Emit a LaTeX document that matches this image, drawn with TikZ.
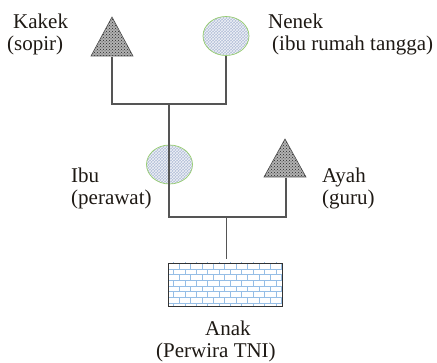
\documentclass[tikz,border=0pt]{standalone}
\usepackage{fontspec}
\setmainfont{Liberation Serif}
\usetikzlibrary{patterns,shapes.geometric}
\definecolor{femfill}{RGB}{178,190,216}
\definecolor{femedge}{RGB}{150,205,110}
\definecolor{linecol}{RGB}{85,85,85}
\definecolor{txtcol}{RGB}{30,25,20}
\definecolor{brickcol}{RGB}{150,190,230}
\begin{document}
\begin{tikzpicture}[x=1pt,y=-1pt,
  lbl/.style={font=\fontsize{21}{22}\selectfont, text=txtcol, inner sep=0pt, anchor=base west},
  tri/.style={draw=black!70, line width=0.6pt, preaction={fill=gray!60}, pattern=crosshatch dots, pattern color=black!85},
  fem/.style={ellipse, minimum width=46pt, minimum height=39pt, inner sep=0pt, draw=femedge, line width=0.7pt,
    preaction={fill=femfill}, pattern=crosshatch, pattern color=white!80!femfill},
  kid/.style={rectangle, minimum width=114pt, minimum height=43pt, inner sep=0pt, draw=black!80, line width=0.8pt,
    preaction={fill=white}, pattern=bricks, pattern color=brickcol},
  con/.style={draw=linecol, line width=1.1pt},
]
\useasboundingbox (0,0) rectangle (437,363);

% Kakek (triangle)
\draw[tri] (112,17) -- (133,56) -- (91,56) -- cycle;
\coordinate (kakek) at (112,57);
% Nenek (ellipse)
\node[fem] (nenek) at (226,36) {};
% Ibu (ellipse)
\node[fem] (ibu) at (169.5,164.5) {};
% Ayah (triangle)
\draw[tri] (285,139) -- (306,177) -- (264,177) -- cycle;
\coordinate (ayah) at (286,178);
% Anak (rectangle)
\node[kid] (anak) at (225,284.5) {};

% connectors
\coordinate (gp) at (169,104);
\coordinate (pp) at (169,217);
\coordinate (cp) at (226.5,217);
\draw[con] (kakek) -- ++(0,47) -| (nenek.south);
\draw[con] (gp) -- (pp) -| (ayah);
\draw[con, shorten >=4pt] (cp) -- (cp |- anak.north);

% labels
\node[lbl] (kakek1) at (13,29) {Kakek};
\node[lbl] (kakek2) at (7,51) {(sopir)};
\node[lbl] (nenek1) at (268,29) {Nenek};
\node[lbl] (nenek2) at (272,51) {(ibu rumah tangga)};
\node[lbl] (ibu1) at (71,183) {Ibu};
\node[lbl] (ibu2) at (71,205) {(perawat)};
\node[lbl] (ayah1) at (322,183) {Ayah};
\node[lbl] (ayah2) at (322,205) {(guru)};
\node[lbl] (anak1) at (205,336) {Anak};
\node[lbl] (anak2) at (156,357.5) {(Perwira TNI)};
\end{tikzpicture}
\end{document}
